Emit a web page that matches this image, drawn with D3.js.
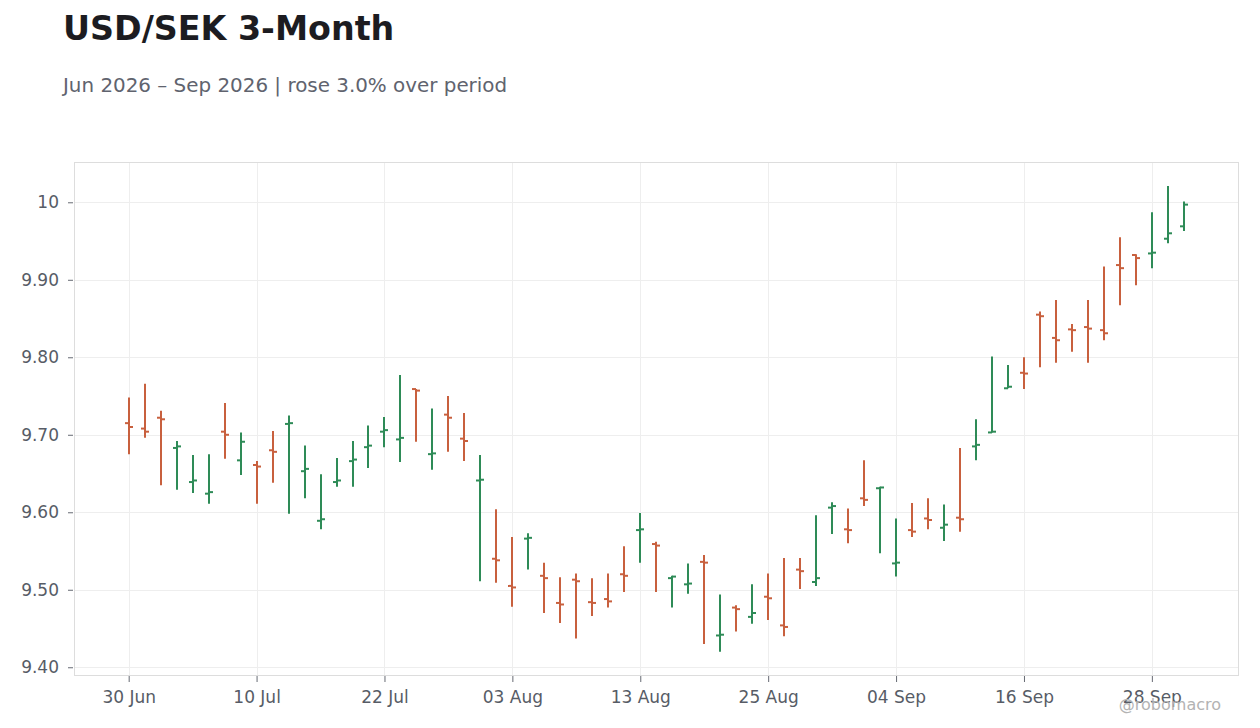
<!DOCTYPE html>
<html>
<head>
<meta charset="utf-8">
<script src="https://cdn.jsdelivr.net/npm/d3@7"></script>
<style>
  body { margin: 0; background: #fff; font-family: "DejaVu Sans", sans-serif; }
  .axis text { font-family: "DejaVu Sans", sans-serif; font-size: 17px; fill: #575c66; }
  .axis line { stroke: #666a73; }
</style>
</head>
<body>
<svg id="chart" width="1260" height="728"></svg>
<script>
// trading days (business days only)
var dates = [
  "2026-06-30","2026-07-01","2026-07-02","2026-07-03",
  "2026-07-06","2026-07-07","2026-07-08","2026-07-09","2026-07-10",
  "2026-07-13","2026-07-14","2026-07-15","2026-07-16","2026-07-17",
  "2026-07-20","2026-07-21","2026-07-22","2026-07-23","2026-07-24",
  "2026-07-27","2026-07-28","2026-07-29","2026-07-30","2026-07-31",
  "2026-08-03","2026-08-04","2026-08-05","2026-08-06","2026-08-07",
  "2026-08-10","2026-08-11","2026-08-12","2026-08-13","2026-08-14",
  "2026-08-17","2026-08-18","2026-08-19","2026-08-20","2026-08-21",
  "2026-08-24","2026-08-25","2026-08-26","2026-08-27","2026-08-28",
  "2026-08-31","2026-09-01","2026-09-02","2026-09-03","2026-09-04",
  "2026-09-07","2026-09-08","2026-09-09","2026-09-10","2026-09-11",
  "2026-09-14","2026-09-15","2026-09-16","2026-09-17","2026-09-18",
  "2026-09-21","2026-09-22","2026-09-23","2026-09-24","2026-09-25",
  "2026-09-28","2026-09-29","2026-09-30"
];

var open = [
  9.715, 9.708, 9.722, 9.683, 9.639, 9.624, 9.704, 9.667, 9.661, 9.680,
  9.714, 9.653, 9.589, 9.639, 9.666, 9.684, 9.704, 9.694, 9.759, 9.675,
  9.726, 9.695, 9.641, 9.540, 9.505, 9.566, 9.518, 9.483, 9.513, 9.484,
  9.488, 9.520, 9.577, 9.559, 9.515, 9.507, 9.536, 9.441, 9.477, 9.465,
  9.491, 9.454, 9.526, 9.510, 9.606, 9.578, 9.618, 9.631, 9.534, 9.577,
  9.592, 9.580, 9.593, 9.685, 9.703, 9.760, 9.780, 9.855, 9.825, 9.836,
  9.839, 9.835, 9.919, 9.932, 9.934, 9.953, 9.969
];
var high = [
  9.748, 9.766, 9.731, 9.692, 9.674, 9.675, 9.741, 9.703, 9.666, 9.705,
  9.725, 9.686, 9.649, 9.670, 9.692, 9.712, 9.723, 9.777, 9.759, 9.734,
  9.750, 9.728, 9.674, 9.604, 9.568, 9.573, 9.535, 9.516, 9.521, 9.515,
  9.521, 9.556, 9.599, 9.562, 9.518, 9.534, 9.545, 9.494, 9.480, 9.507,
  9.521, 9.541, 9.541, 9.596, 9.613, 9.605, 9.667, 9.633, 9.592, 9.612,
  9.618, 9.610, 9.683, 9.720, 9.801, 9.790, 9.800, 9.859, 9.874, 9.843,
  9.874, 9.917, 9.955, 9.933, 9.987, 10.021, 10.001
];
var low = [
  9.675, 9.696, 9.635, 9.629, 9.625, 9.611, 9.669, 9.648, 9.611, 9.638,
  9.598, 9.618, 9.578, 9.633, 9.633, 9.657, 9.684, 9.665, 9.691, 9.655,
  9.678, 9.666, 9.511, 9.509, 9.478, 9.526, 9.470, 9.457, 9.437, 9.466,
  9.477, 9.497, 9.535, 9.497, 9.477, 9.495, 9.430, 9.420, 9.446, 9.456,
  9.461, 9.440, 9.501, 9.505, 9.572, 9.560, 9.608, 9.547, 9.517, 9.568,
  9.578, 9.563, 9.575, 9.667, 9.703, 9.760, 9.759, 9.787, 9.793, 9.807,
  9.793, 9.822, 9.867, 9.893, 9.915, 9.947, 9.963
];
var close = [
  9.710, 9.704, 9.720, 9.685, 9.641, 9.626, 9.700, 9.691, 9.659, 9.678,
  9.715, 9.656, 9.591, 9.641, 9.668, 9.686, 9.706, 9.696, 9.757, 9.676,
  9.722, 9.692, 9.642, 9.538, 9.503, 9.567, 9.515, 9.481, 9.511, 9.483,
  9.485, 9.518, 9.578, 9.557, 9.517, 9.508, 9.535, 9.442, 9.475, 9.470,
  9.489, 9.452, 9.524, 9.515, 9.608, 9.577, 9.616, 9.632, 9.535, 9.575,
  9.590, 9.584, 9.591, 9.687, 9.704, 9.762, 9.779, 9.853, 9.822, 9.835,
  9.837, 9.831, 9.915, 9.928, 9.935, 9.960, 9.997
];

var yTicks = [9.4, 9.5, 9.6, 9.7, 9.8, 9.9, 10.0];
var yTickLabels = ["9.40", "9.50", "9.60", "9.70", "9.80", "9.90", "10"];
var xTickIdx = [0, 8, 16, 24, 32, 40, 48, 56, 64];

const upColor = "#2e8b57";
const downColor = "#c8603e";

// plot box
const plot = { left: 74, right: 1239, top: 162, bottom: 675 };

var parseDate = d3.timeParse("%Y-%m-%d");
var fmtDate = d3.timeFormat("%d %b");

var data = dates.map(function(d, i) {
  return { i: i, date: parseDate(d), o: open[i], h: high[i], l: low[i], c: close[i] };
});

var svg = d3.select("#chart");

var x = d3.scaleLinear()
  .domain([-3.42, 69.45])
  .range([plot.left, plot.right]);

var y = d3.scaleLinear()
  .domain([9.39, 10.052])
  .range([plot.bottom, plot.top]);

// titles
svg.append("text")
  .attr("x", 63).attr("y", 40)
  .style("font-size", "33.3px").style("font-weight", "bold")
  .style("fill", "#1c1c21")
  .text("USD/SEK 3-Month");

svg.append("text")
  .attr("x", 63).attr("y", 92)
  .style("font-size", "19.9px")
  .style("fill", "#60636e")
  .text("Jun 2026 \u2013 Sep 2026 | rose 3.0% over period");

// grid
var grid = svg.append("g").attr("class", "grid");
grid.selectAll("line.hgrid")
  .data(yTicks)
  .enter().append("line")
  .attr("class", "hgrid")
  .attr("x1", plot.left).attr("x2", plot.right)
  .attr("y1", d => Math.round(y(d)) + 0.5).attr("y2", d => Math.round(y(d)) + 0.5)
  .attr("stroke", "#eeeeee");

grid.selectAll("line.vgrid")
  .data(xTickIdx)
  .enter().append("line")
  .attr("class", "vgrid")
  .attr("x1", d => Math.round(x(d)) + 0.5).attr("x2", d => Math.round(x(d)) + 0.5)
  .attr("y1", plot.top).attr("y2", plot.bottom)
  .attr("stroke", "#eeeeee");

// frame
svg.append("rect")
  .attr("x", plot.left + 0.5).attr("y", plot.top + 0.5)
  .attr("width", plot.right - plot.left - 1).attr("height", plot.bottom - plot.top)
  .attr("fill", "none")
  .attr("stroke", "#dddddd");

// axes
var yAxis = d3.axisLeft(y)
  .tickValues(yTicks)
  .tickSizeInner(5).tickSizeOuter(0)
  .tickPadding(9)
  .tickFormat((d, i) => yTickLabels[i]);

svg.append("g")
  .attr("class", "y axis")
  .attr("transform", "translate(" + (plot.left - 1) + ",0)")
  .call(yAxis)
  .call(g => g.select(".domain").remove());

var xAxis = d3.axisBottom(x)
  .tickValues(xTickIdx)
  .tickSizeInner(6).tickSizeOuter(0)
  .tickPadding(9)
  .tickFormat(d => fmtDate(data[d].date));

svg.append("g")
  .attr("class", "x axis")
  .attr("transform", "translate(0," + (plot.bottom + 1) + ")")
  .call(xAxis)
  .call(g => g.select(".domain").remove());

// OHLC bars
var cx = d => Math.round(x(d.i));

var bars = svg.append("g").attr("class", "bars")
  .selectAll("g.ohlc")
  .data(data)
  .enter().append("g")
  .attr("class", "ohlc")
  .attr("stroke", d => d.c >= d.o ? upColor : downColor)
  .attr("stroke-width", 2);

bars.append("line")
  .attr("x1", cx).attr("x2", cx)
  .attr("y1", d => y(d.h)).attr("y2", d => y(d.l));

bars.append("line")
  .attr("x1", d => cx(d) - 4).attr("x2", cx)
  .attr("y1", d => y(d.o)).attr("y2", d => y(d.o));

bars.append("line")
  .attr("x1", cx).attr("x2", d => cx(d) + 4)
  .attr("y1", d => y(d.c)).attr("y2", d => y(d.c));

// watermark
svg.append("text")
  .attr("x", 1221).attr("y", 710)
  .attr("text-anchor", "end")
  .style("font-size", "16px")
  .style("fill", "#b3b3b3")
  .text("@robomacro");
</script>
</body>
</html>
